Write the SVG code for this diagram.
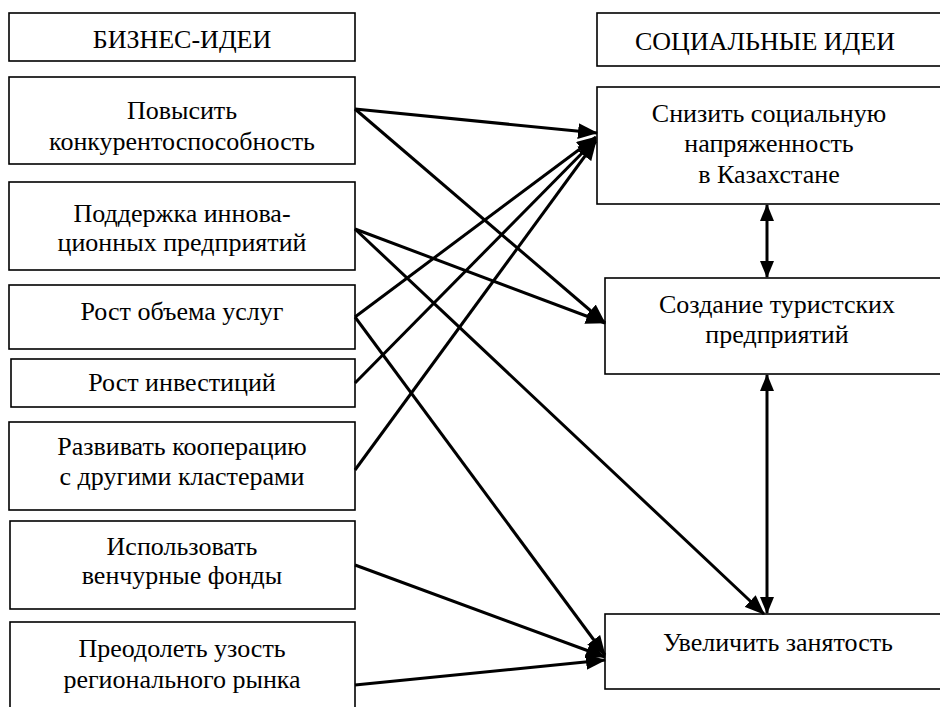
<svg xmlns="http://www.w3.org/2000/svg" width="940" height="707" viewBox="0 0 940 707">
<style>
.box{fill:#fff;stroke:#000;stroke-width:1.6}
text{font-family:'Liberation Serif','DejaVu Serif',serif;font-size:26px;fill:#000;text-anchor:middle}
.c{stroke:#000;stroke-width:3;fill:none;marker-end:url(#ah)}
.d{stroke:#000;stroke-width:3;fill:none;marker-end:url(#ah2);marker-start:url(#ah2)}
</style>
<defs>
<marker id="ah" markerUnits="userSpaceOnUse" markerWidth="20" markerHeight="16" refX="19" refY="8" orient="auto" viewBox="0 0 20 16">
<path d="M0,0 L20,8 L0,16 z" fill="#000"/>
</marker>
<marker id="ah2" markerUnits="userSpaceOnUse" markerWidth="17" markerHeight="14" refX="16" refY="7" orient="auto-start-reverse" viewBox="0 0 17 14">
<path d="M0,0 L17,7 L0,14 z" fill="#000"/>
</marker>
</defs>
<g font-family="Liberation Serif, DejaVu Serif, serif">
<g id="n-biz"><rect class="box" x="9" y="13" width="346" height="48"/><text x="182" y="48">БИЗНЕС-ИДЕИ</text></g>
<g id="n-pov"><rect class="box" x="9" y="77" width="346" height="87"/><text x="182" y="119">Повысить</text><text x="182" y="150">конкурентоспособность</text></g>
<g id="n-pod"><rect class="box" x="9" y="182" width="346" height="88"/><text x="182" y="222">Поддержка иннова-</text><text x="182" y="251">ционных предприятий</text></g>
<g id="n-rou"><rect class="box" x="9" y="285" width="346" height="64"/><text x="182" y="320">Рост объема услуг</text></g>
<g id="n-rin"><rect class="box" x="11" y="359" width="344" height="48"/><text x="182" y="391">Рост инвестиций</text></g>
<g id="n-raz"><rect class="box" x="9" y="422" width="346" height="88"/><text x="182" y="455">Развивать кооперацию</text><text x="182" y="485">с другими кластерами</text></g>
<g id="n-isp"><rect class="box" x="10" y="521" width="345" height="88"/><text x="182" y="555">Использовать</text><text x="182" y="584">венчурные фонды</text></g>
<g id="n-pre"><rect class="box" x="10" y="622" width="345" height="100"/><text x="182" y="657">Преодолеть узость</text><text x="182" y="688">регионального рынка</text></g>
<g id="n-soc"><rect class="box" x="597" y="13" width="360" height="53"/><text x="765" y="50">СОЦИАЛЬНЫЕ ИДЕИ</text></g>
<g id="n-sniz"><rect class="box" x="597" y="87" width="360" height="117"/><text x="769" y="122">Снизить социальную</text><text x="769" y="152">напряженность</text><text x="769" y="183">в Казахстане</text></g>
<g id="n-sozd"><rect class="box" x="605" y="278" width="360" height="96"/><text x="777" y="313">Создание туристских</text><text x="777" y="343">предприятий</text></g>
<g id="n-uvel"><rect class="box" x="605" y="614" width="360" height="75"/><text x="778" y="651">Увеличить занятость</text></g>
</g>
<g id="connectors">
<line class="c" x1="355" y1="109" x2="597" y2="133"/>
<line class="c" x1="355" y1="109" x2="605" y2="323"/>
<line class="c" x1="355" y1="229" x2="605" y2="323"/>
<line class="c" x1="355" y1="229" x2="764" y2="614"/>
<line class="c" x1="355" y1="317" x2="596" y2="137"/>
<line class="c" x1="355" y1="317" x2="605" y2="655"/>
<line class="c" x1="355" y1="383" x2="596" y2="139"/>
<line class="c" x1="355" y1="470" x2="596" y2="141"/>
<line class="c" x1="355" y1="565" x2="605" y2="657"/>
<line class="c" x1="355" y1="685" x2="605" y2="660"/>
<line class="d" x1="767" y1="205" x2="767" y2="277"/>
<line class="d" x1="767" y1="375" x2="767" y2="613"/>
</g>
</svg>
